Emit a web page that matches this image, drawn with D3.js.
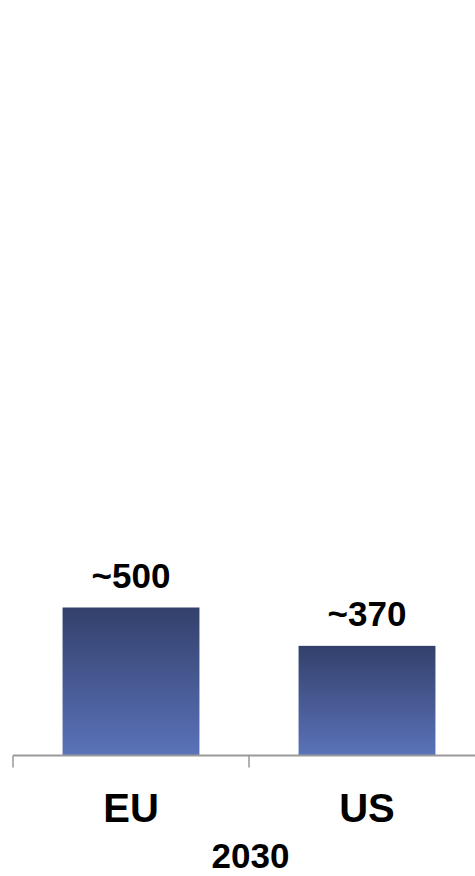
<!DOCTYPE html>
<html><head><meta charset="utf-8">
<script src="https://cdn.jsdelivr.net/npm/d3@7"></script>
<style>html,body{margin:0;padding:0;background:#fff;}svg{display:block;}</style>
</head><body>
<script>
const categories = ["EU", "US"];
const values = [500, 370];
const valueLabels = ["~500", "~370"];
const groupLabel = "2030";

const W = 475, H = 876;
const svg = d3.select("body").append("svg").attr("width", W).attr("height", H);

const defs = svg.append("defs");
const grad = defs.append("linearGradient").attr("id", "barGrad")
  .attr("x1", 0).attr("y1", 0).attr("x2", 0).attr("y2", 1);
grad.append("stop").attr("offset", "0%").attr("stop-color", "#33406b");
grad.append("stop").attr("offset", "100%").attr("stop-color", "#5a72b9");

const x = d3.scaleBand().domain(categories).range([13, 485]).paddingInner(0.42).paddingOuter(0.21);
const y = d3.scaleLinear().domain([0, 500]).range([755, 607.5]);

svg.selectAll("rect.bar").data(categories).enter().append("rect")
  .attr("class", "bar")
  .attr("x", d => x(d))
  .attr("width", x.bandwidth())
  .attr("y", (d, i) => y(values[i]))
  .attr("height", (d, i) => y(0) - y(values[i]))
  .attr("fill", "url(#barGrad)");

// axis line and band-boundary ticks
const axisY = y(0) + 0.5;
svg.append("line").attr("x1", 13).attr("x2", 485).attr("y1", axisY).attr("y2", axisY)
  .attr("stroke", "#999").attr("stroke-width", 2);
const bounds = [13, 13 + x.step(), 13 + 2 * x.step()];
svg.selectAll("line.tick").data(bounds).enter().append("line")
  .attr("class", "tick")
  .attr("x1", d => d).attr("x2", d => d)
  .attr("y1", axisY).attr("y2", axisY + 12)
  .attr("stroke", "#999").attr("stroke-width", 1.5);

const font = "Liberation Sans, Arial, Helvetica, sans-serif";

svg.selectAll("text.val").data(categories).enter().append("text")
  .attr("class", "val")
  .attr("x", d => x(d) + x.bandwidth() / 2)
  .attr("y", (d, i) => y(values[i]) - 19.5)
  .attr("text-anchor", "middle")
  .attr("font-family", font).attr("font-weight", "bold").attr("font-size", 35)
  .attr("fill", "#000")
  .text((d, i) => valueLabels[i]);

svg.selectAll("text.cat").data(categories).enter().append("text")
  .attr("class", "cat")
  .attr("x", d => x(d) + x.bandwidth() / 2)
  .attr("y", 822)
  .attr("text-anchor", "middle")
  .attr("font-family", font).attr("font-weight", "bold").attr("font-size", 40)
  .attr("fill", "#000")
  .text(d => d);

svg.append("text")
  .attr("x", 250.5).attr("y", 868)
  .attr("text-anchor", "middle")
  .attr("font-family", font).attr("font-weight", "bold").attr("font-size", 35)
  .attr("fill", "#000")
  .text(groupLabel);
</script>
</body></html>
